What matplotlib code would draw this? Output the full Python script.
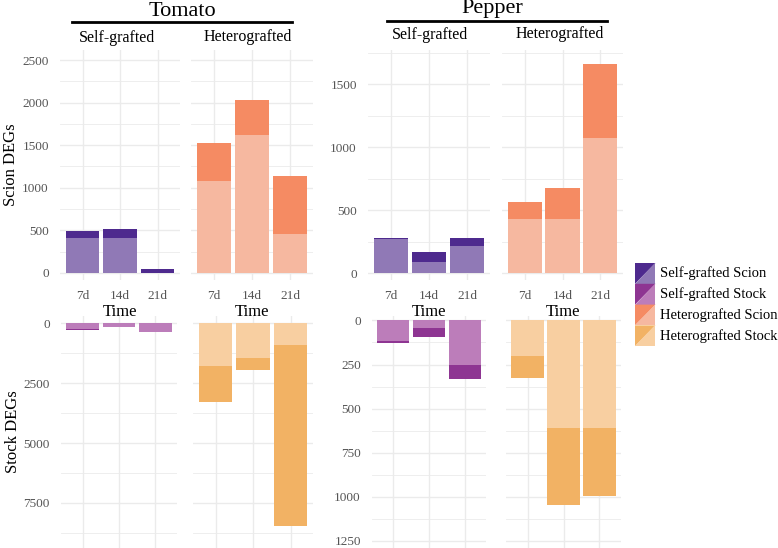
import matplotlib.pyplot as plt
from matplotlib.patches import Polygon
import numpy as np

plt.rcParams['font.family'] = ['Liberation Serif', 'DejaVu Serif']

# time points
times = ['7d', '14d', '21d']

# scion DEGs (light = lower part, dark = upper part)
tomato_scion_self_light = [405, 405, 0]
tomato_scion_self_dark = [88, 108, 40]
tomato_scion_het_light = [1080, 1624, 458]
tomato_scion_het_dark = [450, 407, 684]
pepper_scion_self_light = [267, 87, 214]
pepper_scion_self_dark = [13, 82, 64]
pepper_scion_het_light = [426, 431, 1072]
pepper_scion_het_dark = [138, 244, 587]

# stock DEGs (drawn downward)
tomato_stock_self_light = [240, 170, 350]
tomato_stock_self_dark = [40, 0, 0]
tomato_stock_het_light = [1780, 1460, 912]
tomato_stock_het_dark = [1525, 490, 7548]
pepper_stock_self_light = [114, 41, 255]
pepper_stock_self_dark = [13, 52, 78]
pepper_stock_het_light = [202, 612, 612]
pepper_stock_het_dark = [124, 433, 383]

legend_labels = ['Self-grafted Scion', 'Self-grafted Stock',
                 'Heterografted Scion', 'Heterografted Stock']
# (dark, light) colour pairs
colours = {
    'self_scion': ('#4E2A8E', '#9079B6'),
    'self_stock': ('#8E3592', '#BC7DBA'),
    'het_scion': ('#F58B63', '#F6B8A0'),
    'het_stock': ('#F2B264', '#F8CFA1'),
}

W, H = 778, 548
fig = plt.figure(figsize=(W / 100, H / 100), dpi=100)


def px_axes(x0, x1, y0, y1):
    # pixel box (top-left origin) -> figure axes
    return fig.add_axes([x0 / W, 1 - y1 / H, (x1 - x0) / W, (y1 - y0) / H])


grid_c = '#EBEBEB'
tick_c = '#555555'


def draw_panel(ax, light, dark, cols, ylim, major, minor, show_y, invert, xlabels):
    x = np.arange(1, len(times) + 1)
    ax.bar(x, light, width=0.9, color=cols[1], zorder=3)
    ax.bar(x, dark, width=0.9, bottom=light, color=cols[0], zorder=3)
    ax.set_xlim(0.4, 3.6)
    ax.set_ylim(*ylim)
    if invert:
        ax.invert_yaxis()
    ax.set_xticks(x)
    ax.set_yticks(major)
    ax.set_yticks(minor, minor=True)
    for v in minor:
        ax.axhline(v, color=grid_c, lw=0.6, zorder=0)
    for v in major:
        ax.axhline(v, color=grid_c, lw=1.0, zorder=0)
    for v in x:
        ax.axvline(v, color=grid_c, lw=1.0, zorder=0)
    for s in ax.spines.values():
        s.set_visible(False)
    ax.tick_params(length=0, which='both', labelsize=9.5, labelcolor=tick_c, pad=8)
    if show_y:
        ax.set_yticklabels([str(v) for v in major])
    else:
        ax.set_yticklabels([])
    if xlabels:
        ax.set_xticklabels(times)
        ax.tick_params(axis='x', pad=7.5)
        ax.set_xlabel('Time', fontsize=12, labelpad=1.5)
    else:
        ax.set_xticklabels([])


# top row: scion
ax = px_axes(60, 180, 50, 280)
draw_panel(ax, tomato_scion_self_light, tomato_scion_self_dark, colours['self_scion'],
           (-85, 2620), [0, 500, 1000, 1500, 2000, 2500], [250, 750, 1250, 1750, 2250],
           True, False, True)
ax.set_ylabel('Scion DEGs', fontsize=12, labelpad=2)
ax = px_axes(191, 313, 50, 280)
draw_panel(ax, tomato_scion_het_light, tomato_scion_het_dark, colours['het_scion'],
           (-85, 2620), [0, 500, 1000, 1500, 2000, 2500], [250, 750, 1250, 1750, 2250],
           False, False, True)
ax = px_axes(368, 490, 50, 280)
draw_panel(ax, pepper_scion_self_light, pepper_scion_self_dark, colours['self_scion'],
           (-55, 1770), [0, 500, 1000, 1500], [250, 750, 1250, 1750],
           True, False, True)
ax = px_axes(502, 623, 50, 280)
draw_panel(ax, pepper_scion_het_light, pepper_scion_het_dark, colours['het_scion'],
           (-55, 1770), [0, 500, 1000, 1500], [250, 750, 1250, 1750],
           False, False, True)

# bottom row: stock
ax = px_axes(61, 177, 316, 548)
draw_panel(ax, tomato_stock_self_light, tomato_stock_self_dark, colours['self_stock'],
           (-300, 9380), [0, 2500, 5000, 7500], [1250, 3750, 6250, 8750],
           True, True, False)
ax.set_ylabel('Stock DEGs', fontsize=12, labelpad=2)
ax = px_axes(193, 313, 316, 548)
draw_panel(ax, tomato_stock_het_light, tomato_stock_het_dark, colours['het_stock'],
           (-300, 9380), [0, 2500, 5000, 7500], [1250, 3750, 6250, 8750],
           False, True, False)
ax = px_axes(372, 486, 316, 548)
draw_panel(ax, pepper_stock_self_light, pepper_stock_self_dark, colours['self_stock'],
           (-25, 1290), [0, 250, 500, 750, 1000, 1250], [125, 375, 625, 875, 1125],
           True, True, False)
ax = px_axes(506, 621, 316, 548)
draw_panel(ax, pepper_stock_het_light, pepper_stock_het_dark, colours['het_stock'],
           (-25, 1290), [0, 250, 500, 750, 1000, 1250], [125, 375, 625, 875, 1125],
           False, True, False)

# headers
top = fig.add_axes([0, 0, 1, 1], facecolor='none')
top.set_xlim(0, W)
top.set_ylim(H, 0)
top.axis('off')
top.text(182, 11, 'Tomato', fontsize=16, ha='center', va='center')
top.plot([72, 292], [22, 22], color='black', lw=2)
top.text(492, 9, 'Pepper', fontsize=16, ha='center', va='center')
top.plot([387, 607], [21, 21], color='black', lw=2)
top.text(117, 38, 'Self-grafted', fontsize=11.5, ha='center', va='center')
top.text(248, 37, 'Heterografted', fontsize=11.5, ha='center', va='center')
top.text(430, 35, 'Self-grafted', fontsize=11.5, ha='center', va='center')
top.text(560, 34, 'Heterografted', fontsize=11.5, ha='center', va='center')

# legend with split swatches
keys = ['self_scion', 'self_stock', 'het_scion', 'het_stock']
for i, (k, lab) in enumerate(zip(keys, legend_labels)):
    y0 = 263 + i * 20.8
    y1 = y0 + 20.8
    x0, x1 = 635, 655.5
    dark, light = colours[k]
    top.add_patch(Polygon([(x0, y0), (x1, y0), (x0, y1)], closed=True, color=dark, lw=0))
    top.add_patch(Polygon([(x1, y0), (x1, y1), (x0, y1)], closed=True, color=light, lw=0))
    top.text(660, (y0 + y1) / 2, lab, fontsize=10.5, ha='left', va='center')

fig.savefig('out.png', dpi=100)
